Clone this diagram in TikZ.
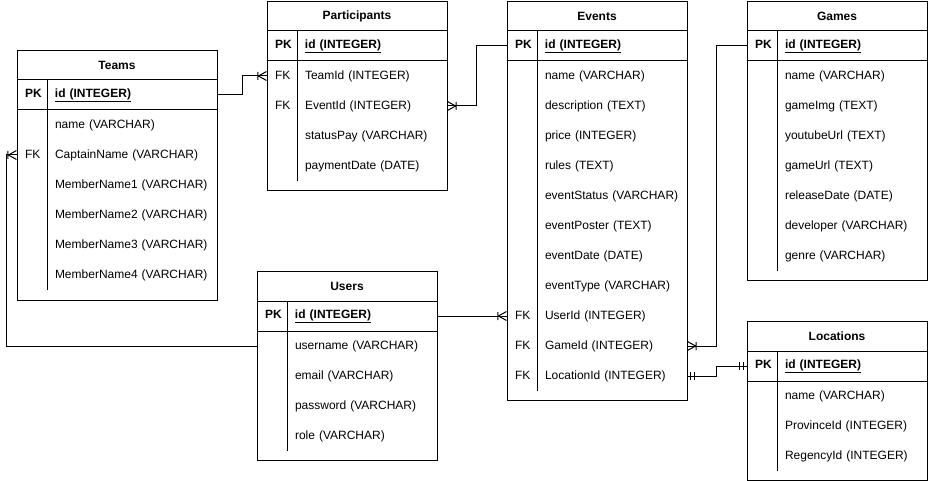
\documentclass[tikz,border=0pt]{standalone}
\usepackage{fontspec}
\setmainfont{Liberation Sans}
\usetikzlibrary{decorations.markings}

\begin{document}
\begin{tikzpicture}[x=1pt, y=-1pt, line width=1pt,
    every node/.style={font=\fontsize{12}{14}\selectfont},
    tbl/.style={draw, anchor=north west, inner sep=0pt},
    ttl/.style={font=\fontsize{12}{14}\selectfont\bfseries},
    row/.style={minimum height=30pt, inner xsep=8pt, inner ysep=0pt, text width=#1, align=left},
    row/.default=164pt,
    onemany/.style={postaction={decorate, decoration={markings,
        mark=at position -0.01pt with {\draw[line width=1pt] (-8.5pt,-4pt) -- (-8.5pt,4pt) (0pt,-4.5pt) -- (-8pt,0pt) -- (0pt,4.5pt);}}}},
    oneone/.style={postaction={decorate, decoration={markings,
        mark=at position 0.01pt with {\draw[line width=1pt] (3pt,-4pt) -- (3pt,4pt) (7pt,-4pt) -- (7pt,4pt);},
        mark=at position -0.01pt with {\draw[line width=1pt] (-3pt,-4pt) -- (-3pt,4pt) (-7pt,-4pt) -- (-7pt,4pt);}}}}]
    \useasboundingbox (0,0) rectangle (928,481);

    % Teams
    \node[tbl, minimum width=200pt, minimum height=250pt] (teams) at (17,50) {};
    \node[ttl] (teams-t) at (117,65) {Teams};
    \node[row=184pt] (teams-id) at (117,95) {\makebox[30pt][l]{\bfseries PK}\textbf{\underline{id (INTEGER)}}};
    \draw (17,80) -- +(200,0) (17,110) -- +(200,0) (47,80) -- (47,290);
    \foreach \k/\t [count=\i] in {{}/name (VARCHAR), FK/CaptainName (VARCHAR), {}/MemberName1 (VARCHAR),
        {}/MemberName2 (VARCHAR), {}/MemberName3 (VARCHAR), {}/MemberName4 (VARCHAR)}
        \node[row=184pt] (teams-\i) at (117,95+30*\i) {\makebox[30pt][l]{\k}\t};

    % Participants
    \node[tbl, minimum width=180pt, minimum height=189pt] (part) at (267,1) {};
    \node[ttl] (part-t) at (357,16) {Participants};
    \node[row] (part-id) at (357,46) {\makebox[30pt][l]{\bfseries PK}\textbf{\underline{id (INTEGER)}}};
    \draw (267,31) -- +(180,0) (267,61) -- +(180,0) (297,31) -- (297,181);
    \foreach \k/\t [count=\i] in {FK/TeamId (INTEGER), FK/EventId (INTEGER), {}/statusPay (VARCHAR), {}/paymentDate (DATE)}
        \node[row] (part-\i) at (357,46+30*\i) {\makebox[30pt][l]{\k}\t};

    % Events
    \node[tbl, minimum width=180pt, minimum height=399pt] (events) at (507,1) {};
    \node[ttl] (events-t) at (597,16) {Events};
    \node[row] (events-id) at (597,46) {\makebox[30pt][l]{\bfseries PK}\textbf{\underline{id (INTEGER)}}};
    \draw (507,31) -- +(180,0) (507,61) -- +(180,0) (537,31) -- (537,391);
    \foreach \k/\t [count=\i] in {{}/name (VARCHAR), {}/description (TEXT), {}/price (INTEGER), {}/rules (TEXT),
        {}/eventStatus (VARCHAR), {}/eventPoster (TEXT), {}/eventDate (DATE), {}/eventType (VARCHAR),
        FK/UserId (INTEGER), FK/GameId (INTEGER), FK/LocationId (INTEGER)}
        \node[row] (events-\i) at (597,46+30*\i) {\makebox[30pt][l]{\k}\t};

    % Games
    \node[tbl, minimum width=180pt, minimum height=279pt] (games) at (747,1) {};
    \node[ttl] (games-t) at (837,16) {Games};
    \node[row] (games-id) at (837,46) {\makebox[30pt][l]{\bfseries PK}\textbf{\underline{id (INTEGER)}}};
    \draw (747,31) -- +(180,0) (747,61) -- +(180,0) (777,31) -- (777,271);
    \foreach \k/\t [count=\i] in {{}/name (VARCHAR), {}/gameImg (TEXT), {}/youtubeUrl (TEXT), {}/gameUrl (TEXT),
        {}/releaseDate (DATE), {}/developer (VARCHAR), {}/genre (VARCHAR)}
        \node[row] (games-\i) at (837,46+30*\i) {\makebox[30pt][l]{\k}\t};

    % Users
    \node[tbl, minimum width=180pt, minimum height=189pt] (users) at (257,271) {};
    \node[ttl] (users-t) at (347,286) {Users};
    \node[row] (users-id) at (347,316) {\makebox[30pt][l]{\bfseries PK}\textbf{\underline{id (INTEGER)}}};
    \draw (257,301) -- +(180,0) (257,331) -- +(180,0) (287,301) -- (287,451);
    \foreach \k/\t [count=\i] in {{}/username (VARCHAR), {}/email (VARCHAR), {}/password (VARCHAR), {}/role (VARCHAR)}
        \node[row] (users-\i) at (347,316+30*\i) {\makebox[30pt][l]{\k}\t};

    % Locations
    \node[tbl, minimum width=180pt, minimum height=159pt] (loc) at (747,321) {};
    \node[ttl] (loc-t) at (837,336) {Locations};
    \node[row] (loc-id) at (837,366) {\makebox[30pt][l]{\bfseries PK}\textbf{\underline{id (INTEGER)}}};
    \draw (747,351) -- +(180,0) (747,381) -- +(180,0) (777,351) -- (777,471);
    \foreach \k/\t [count=\i] in {{}/name (VARCHAR), {}/ProvinceId (INTEGER), {}/RegencyId (INTEGER)}
        \node[row] (loc-\i) at (837,366+30*\i) {\makebox[30pt][l]{\k}\t};

    % relations
    \draw[onemany] (teams-id.east) -- ++(25,0) |- (part-1.west);
    \draw[onemany] (events-id.west) -- ++(-30,0) |- (part-2.east);
    \draw[onemany] (games-id.west) -- ++(-30,0) |- (events-10.east);
    \draw[onemany] (users-id.east) -- (events-9.west);
    \draw[oneone] (loc-id.west) -- ++(-30,0) |- (events-11.east);
    \draw[onemany] (users-1.west) -- ++(-250,0) |- (teams-2.west);
\end{tikzpicture}
\end{document}
